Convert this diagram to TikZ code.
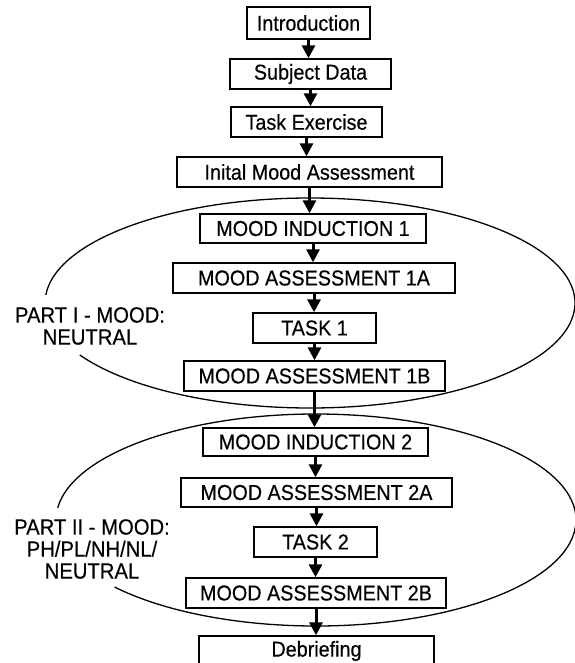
\documentclass[tikz,border=0pt]{standalone}
\usepackage{fontspec}
\setmainfont[FakeStretch=0.92,FakeBold=0.4]{Liberation Sans}
\usetikzlibrary{arrows.meta,calc}
\begin{document}
\begin{tikzpicture}[x=1bp,y=-1bp,
  box/.style={draw,line width=1.4bp,inner sep=0pt,font=\fontsize{21.5bp}{23bp}\selectfont},
  arr/.style={line width=3bp,-{Triangle[width=13bp,length=13bp]}},
  partlabel/.style={align=center,font=\fontsize{22bp}{22bp}\selectfont},
  oval/.style={line width=1.3bp}]
\useasboundingbox (0,0) rectangle (575,663);
\clip (0,0) rectangle (575,663);
\fill[white] (0,0) rectangle (575,663);

% ovals
\coordinate (E1) at (310,303);
\coordinate (E2) at (316,520);
\draw[oval] ($(E1)+(184.4:265 and 105)$) arc[start angle=184.4,end angle=510.3,x radius=265,y radius=105];
\draw[oval] ($(E2)+(186.5:260 and 106)$) arc[start angle=186.5,end angle=500.8,x radius=260,y radius=106];

% boxes
\node[box,minimum width=123bp,minimum height=32bp] (intro) at (308.5,23) {Introduction};
\node[box,minimum width=161bp,minimum height=30bp] (subj) at (310.5,74) {Subject Data};
\node[box,minimum width=151bp,minimum height=30bp] (texer) at (306.5,122) {Task Exercise};
\node[box,minimum width=265bp,minimum height=30bp] (init) at (309.5,172) {Inital Mood Assessment};
\node[box,minimum width=226bp,minimum height=29bp] (mi1) at (313,228.5) {MOOD INDUCTION 1};
\node[box,minimum width=282bp,minimum height=30bp] (ma1a) at (314,278) {MOOD ASSESSMENT 1A};
\node[box,minimum width=123bp,minimum height=30bp] (t1) at (314.5,328) {TASK 1};
\node[box,minimum width=261bp,minimum height=30bp] (ma1b) at (314.5,376) {MOOD ASSESSMENT 1B};
\node[box,minimum width=225bp,minimum height=28bp] (mi2) at (315.5,442) {MOOD INDUCTION 2};
\node[box,minimum width=271bp,minimum height=29bp] (ma2a) at (316.5,492.5) {MOOD ASSESSMENT 2A};
\node[box,minimum width=123bp,minimum height=30bp] (t2) at (315.5,542) {TASK 2};
\node[box,minimum width=260bp,minimum height=30bp] (ma2b) at (316,593) {MOOD ASSESSMENT 2B};
\node[box,minimum width=235bp,minimum height=30bp] (deb) at (316.5,651) {Debriefing};

% part labels
\node[partlabel] (p1) at (90,326) {PART I - MOOD:\\NEUTRAL};
\node[partlabel] (p2) at (92,549) {PART II - MOOD:\\PH/PL/NH/NL/\\NEUTRAL};

% arrows
\foreach \a/\b in {intro/subj,subj/texer,texer/init,init/mi1,mi1/ma1a,ma1a/t1,t1/ma1b,ma1b/mi2,mi2/ma2a,ma2a/t2,t2/ma2b,ma2b/deb}
  \draw[arr] (\a.south) -- (\a.south |- \b.north);
\end{tikzpicture}
\end{document}
